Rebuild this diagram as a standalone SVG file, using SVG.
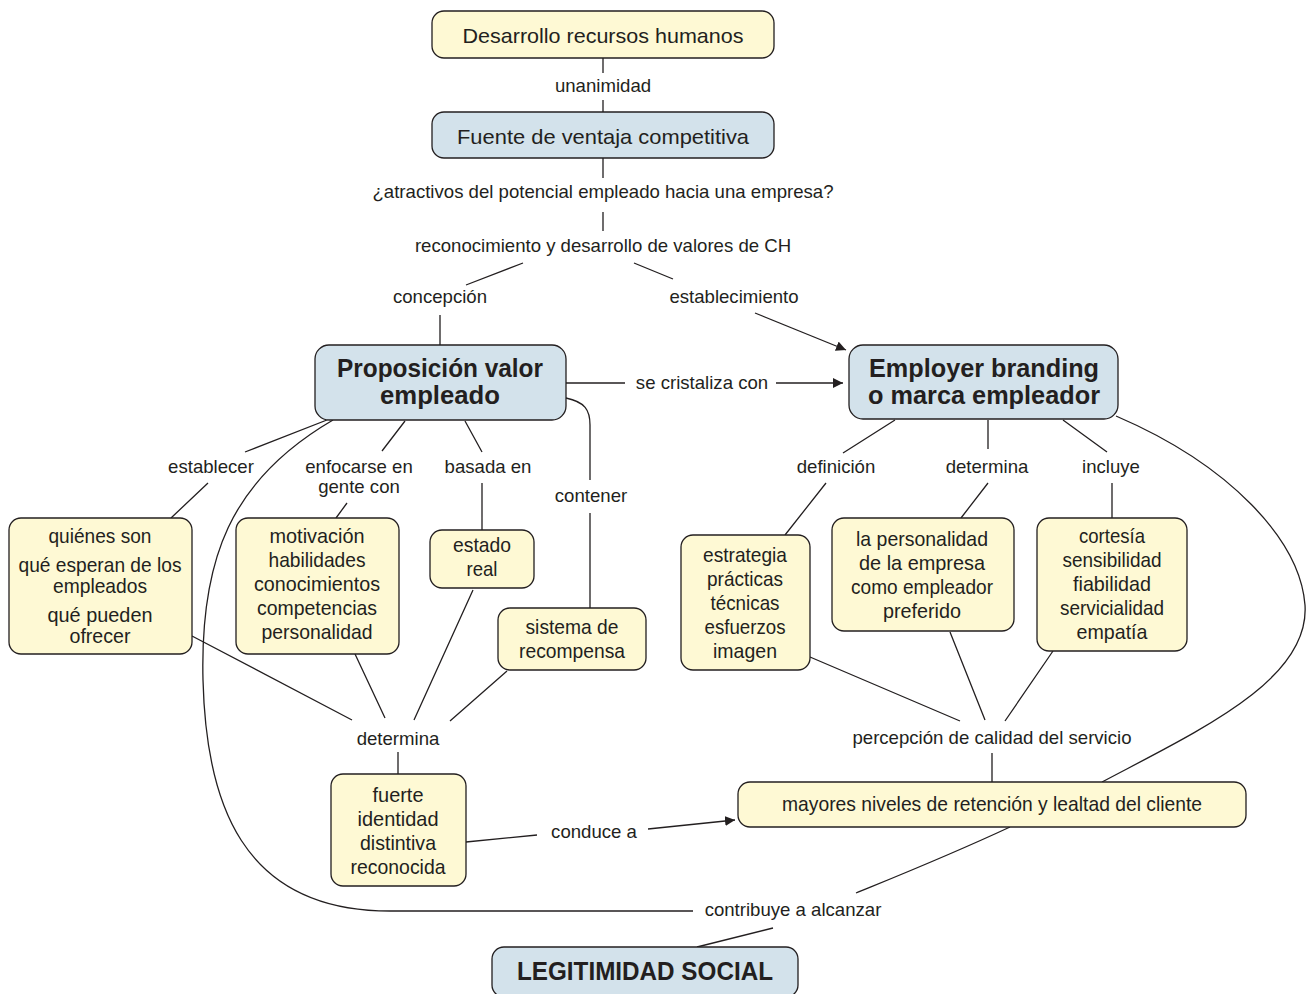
<svg xmlns="http://www.w3.org/2000/svg" width="1306" height="994" viewBox="0 0 1306 994">
<defs>
<style>
.y{fill:#fef9d4;stroke:#231f20;stroke-width:1.3}
.b{fill:#d3e2eb;stroke:#231f20;stroke-width:1.3}
.t{font-family:"Liberation Sans",sans-serif;font-size:21px;fill:#231f20;text-anchor:middle}
.tb{font-family:"Liberation Sans",sans-serif;font-size:25px;font-weight:bold;fill:#231f20;text-anchor:middle}
.l{font-family:"Liberation Sans",sans-serif;font-size:18.6px;fill:#231f20;text-anchor:middle}
.c{fill:none;stroke:#231f20;stroke-width:1.3}
</style>
<marker id="ar" viewBox="0 0 10 10" refX="10" refY="5" markerWidth="10" markerHeight="10" markerUnits="userSpaceOnUse" orient="auto"><path d="M0,0L10,5L0,10z" fill="#231f20"/></marker>
</defs>
<g id="connectors">
<path class="c" d="M603,58V73M603,100V112M603,158V178M603,212V231M523,263L466,285M634,263L673,279M440,315V345"/>
<path class="c" d="M755,313L846,350" marker-end="url(#ar)"/>
<path class="c" d="M566,383H625"/>
<path class="c" d="M776,383H843" marker-end="url(#ar)"/>
<path class="c" d="M332,418L245,452M208,483L171,518M405,421L382,451M347,503L336,518M465,421L482,452M482,483V530"/>
<path class="c" d="M566,398C585,402 590,410 590,425V480M590,513V608"/>
<path class="c" d="M333,420C230,480 200,560 203,680C206,800 240,911 390,911H693M773,928L697,947"/>
<path class="c" d="M192,636L352,720M355,654L385,718M473,590L414,720M507,671L450,721M398,752V774"/>
<path class="c" d="M466,842L537,835"/>
<path class="c" d="M648,829L735,820" marker-end="url(#ar)"/>
<path class="c" d="M895,420L843,453M826,483L785,535M988,420V449M988,483L961,518M1063,420L1107,452M1112,483V518"/>
<path class="c" d="M810,657L960,721M950,632L985,720M1053,651L1005,721M992,753V782"/>
<path class="c" d="M1116,416C1230,465 1300,540 1305,605C1310,680 1200,730 1102,782"/>
<path class="c" d="M1010,827C950,855 900,875 856,893"/>
</g>
<g id="labels">
<text class="l" x="603" y="92">unanimidad</text>
<text class="l" x="603" y="198">¿atractivos del potencial empleado hacia una empresa?</text>
<text class="l" x="603" y="252">reconocimiento y desarrollo de valores de CH</text>
<text class="l" x="440" y="303">concepción</text>
<text class="l" x="734" y="303">establecimiento</text>
<text class="l" x="702" y="389">se cristaliza con</text>
<text class="l" x="211" y="473">establecer</text>
<text class="l" x="359" y="473">enfocarse en</text>
<text class="l" x="359" y="493">gente con</text>
<text class="l" x="488" y="473">basada en</text>
<text class="l" x="591" y="502">contener</text>
<text class="l" x="398" y="745">determina</text>
<text class="l" x="594" y="838">conduce a</text>
<text class="l" x="836" y="473">definición</text>
<text class="l" x="987" y="473">determina</text>
<text class="l" x="1111" y="473">incluye</text>
<text class="l" x="992" y="744">percepción de calidad del servicio</text>
<text class="l" x="793" y="916">contribuye a alcanzar</text>
</g>
<g id="n1"><rect class="y" x="432" y="11" width="342" height="47" rx="12"/><text class="t" x="603" y="43" textLength="281" lengthAdjust="spacingAndGlyphs">Desarrollo recursos humanos</text></g>
<g id="n2"><rect class="b" x="432" y="112" width="342" height="46" rx="12"/><text class="t" x="603" y="144" textLength="292" lengthAdjust="spacingAndGlyphs">Fuente de ventaja competitiva</text></g>
<g id="n3"><rect class="b" x="315" y="345" width="251" height="75" rx="14"/><text class="tb" x="440" y="377" textLength="206" lengthAdjust="spacingAndGlyphs">Proposición valor</text><text class="tb" x="440" y="404" textLength="120" lengthAdjust="spacingAndGlyphs">empleado</text></g>
<g id="n4"><rect class="b" x="849" y="345" width="269" height="74" rx="14"/><text class="tb" x="984" y="377" textLength="230" lengthAdjust="spacingAndGlyphs">Employer branding</text><text class="tb" x="984" y="404" textLength="232" lengthAdjust="spacingAndGlyphs">o marca empleador</text></g>
<g id="n5"><rect class="y" x="9" y="518" width="183" height="136" rx="12"/><text class="t" x="100" y="543" textLength="103" lengthAdjust="spacingAndGlyphs">quiénes son</text><text class="t" x="100" y="572" textLength="163" lengthAdjust="spacingAndGlyphs">qué esperan de los</text><text class="t" x="100" y="593" textLength="94" lengthAdjust="spacingAndGlyphs">empleados</text><text class="t" x="100" y="622" textLength="105" lengthAdjust="spacingAndGlyphs">qué pueden</text><text class="t" x="100" y="643" textLength="61" lengthAdjust="spacingAndGlyphs">ofrecer</text></g>
<g id="n6"><rect class="y" x="236" y="518" width="163" height="136" rx="12"/><text class="t" x="317" y="543" textLength="95" lengthAdjust="spacingAndGlyphs">motivación</text><text class="t" x="317" y="567" textLength="97" lengthAdjust="spacingAndGlyphs">habilidades</text><text class="t" x="317" y="591" textLength="126" lengthAdjust="spacingAndGlyphs">conocimientos</text><text class="t" x="317" y="615" textLength="120" lengthAdjust="spacingAndGlyphs">competencias</text><text class="t" x="317" y="639" textLength="111" lengthAdjust="spacingAndGlyphs">personalidad</text></g>
<g id="n7"><rect class="y" x="430" y="530" width="104" height="58" rx="12"/><text class="t" x="482" y="552" textLength="58" lengthAdjust="spacingAndGlyphs">estado</text><text class="t" x="482" y="576" textLength="31" lengthAdjust="spacingAndGlyphs">real</text></g>
<g id="n8"><rect class="y" x="498" y="608" width="148" height="62" rx="12"/><text class="t" x="572" y="634" textLength="93" lengthAdjust="spacingAndGlyphs">sistema de</text><text class="t" x="572" y="658" textLength="106" lengthAdjust="spacingAndGlyphs">recompensa</text></g>
<g id="n9"><rect class="y" x="331" y="774" width="135" height="112" rx="12"/><text class="t" x="398" y="802" textLength="51" lengthAdjust="spacingAndGlyphs">fuerte</text><text class="t" x="398" y="826" textLength="81" lengthAdjust="spacingAndGlyphs">identidad</text><text class="t" x="398" y="850" textLength="76" lengthAdjust="spacingAndGlyphs">distintiva</text><text class="t" x="398" y="874" textLength="95" lengthAdjust="spacingAndGlyphs">reconocida</text></g>
<g id="n10"><rect class="y" x="681" y="535" width="129" height="135" rx="12"/><text class="t" x="745" y="562" textLength="84" lengthAdjust="spacingAndGlyphs">estrategia</text><text class="t" x="745" y="586" textLength="76" lengthAdjust="spacingAndGlyphs">prácticas</text><text class="t" x="745" y="610" textLength="69" lengthAdjust="spacingAndGlyphs">técnicas</text><text class="t" x="745" y="634" textLength="81" lengthAdjust="spacingAndGlyphs">esfuerzos</text><text class="t" x="745" y="658" textLength="64" lengthAdjust="spacingAndGlyphs">imagen</text></g>
<g id="n11"><rect class="y" x="832" y="518" width="182" height="113" rx="12"/><text class="t" x="922" y="546" textLength="132" lengthAdjust="spacingAndGlyphs">la personalidad</text><text class="t" x="922" y="570" textLength="126" lengthAdjust="spacingAndGlyphs">de la empresa</text><text class="t" x="922" y="594" textLength="142" lengthAdjust="spacingAndGlyphs">como empleador</text><text class="t" x="922" y="618" textLength="78" lengthAdjust="spacingAndGlyphs">preferido</text></g>
<g id="n12"><rect class="y" x="1037" y="518" width="150" height="133" rx="12"/><text class="t" x="1112" y="543" textLength="66" lengthAdjust="spacingAndGlyphs">cortesía</text><text class="t" x="1112" y="567" textLength="99" lengthAdjust="spacingAndGlyphs">sensibilidad</text><text class="t" x="1112" y="591" textLength="78" lengthAdjust="spacingAndGlyphs">fiabilidad</text><text class="t" x="1112" y="615" textLength="104" lengthAdjust="spacingAndGlyphs">servicialidad</text><text class="t" x="1112" y="639" textLength="71" lengthAdjust="spacingAndGlyphs">empatía</text></g>
<g id="n13"><rect class="y" x="738" y="782" width="508" height="45" rx="12"/><text class="t" x="992" y="811" textLength="420" lengthAdjust="spacingAndGlyphs">mayores niveles de retención y lealtad del cliente</text></g>
<g id="n14"><rect class="b" x="492" y="947" width="306" height="50" rx="12"/><text class="tb" x="645" y="980" textLength="256" lengthAdjust="spacingAndGlyphs">LEGITIMIDAD SOCIAL</text></g>
</svg>
